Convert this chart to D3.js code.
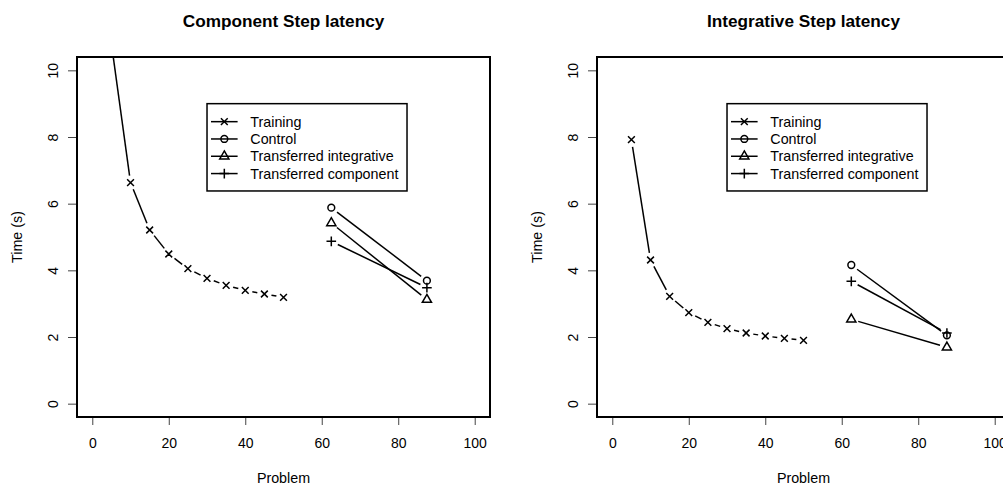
<!DOCTYPE html>
<html>
<head>
<meta charset="utf-8">
<script src="https://cdn.jsdelivr.net/npm/d3@7"></script>
<style>
  body { margin: 0; background: #fff; }
  svg { display: block; }
  text { font-family: "Liberation Sans", Arial, Helvetica, sans-serif; fill: #000; }
</style>
</head>
<body>
<svg id="chart" width="1003" height="486"></svg>
<script>
// Problems 5..50 of the training phase, and the two transfer blocks
const trainingProblems = [5, 10, 15, 20, 25, 30, 35, 40, 45, 50];
const transferProblems = [62.5, 87.5];

// Component step latency (s)
const componentTraining = [10.8, 6.63, 5.21, 4.49, 4.05, 3.76, 3.55, 3.40, 3.29, 3.19];
const componentControl = [5.88, 3.69];
const componentTransIntegrative = [5.42, 3.12];
const componentTransComponent = [4.87, 3.48];

// Integrative step latency (s)
const integrativeTraining = [7.92, 4.31, 3.22, 2.73, 2.44, 2.25, 2.12, 2.03, 1.96, 1.90];
const integrativeControl = [4.16, 2.05];
const integrativeTransIntegrative = [2.53, 1.69];
const integrativeTransComponent = [3.67, 2.12];

const seriesNames = ["Training", "Control", "Transferred integrative", "Transferred component"];
const seriesSymbols = ["cross", "circle", "triangle", "plus"];
const panelTitles = ["Component Step latency", "Integrative Step latency"];
const xTicks = [0, 20, 40, 60, 80, 100];
const yTicks = [0, 2, 4, 6, 8, 10];
const xLabel = "Problem";
const yLabel = "Time (s)";

const panels = [
  { title: panelTitles[0], training: componentTraining, control: componentControl,
    transInt: componentTransIntegrative, transComp: componentTransComponent, left: 77 },
  { title: panelTitles[1], training: integrativeTraining, control: integrativeControl,
    transInt: integrativeTransIntegrative, transComp: integrativeTransComponent, left: 597 }
];

const svg = d3.select("#chart");
const plotW = 413, plotTop = 57, plotBottom = 417;
const lineW = 1.5;
const R = 3.4;       // symbol radius
const GAP = 7.2;     // gap left around points on the connecting lines
const fontSize = 14.3;

function drawSymbol(g, type, cx, cy) {
  const s = g.append("g").attr("fill", "none").attr("stroke", "#000").attr("stroke-width", lineW);
  if (type === "circle") {
    s.append("circle").attr("cx", cx).attr("cy", cy).attr("r", R);
  } else if (type === "cross") {
    s.append("path").attr("d",
      `M${cx - R},${cy - R}L${cx + R},${cy + R}M${cx - R},${cy + R}L${cx + R},${cy - R}`);
  } else if (type === "plus") {
    const h = R * Math.SQRT2;
    s.append("path").attr("d", `M${cx - h},${cy}L${cx + h},${cy}M${cx},${cy - h}L${cx},${cy + h}`);
  } else if (type === "triangle") {
    const r0 = R * 1.5551, r1 = R * 1.3468, r2 = R * 0.7776;
    s.append("path").attr("d",
      `M${cx},${cy - r0}L${cx + r1},${cy + r2}L${cx - r1},${cy + r2}Z`).attr("stroke-linejoin", "miter");
  }
}

// points joined by lines that stop short of each symbol
function drawSeries(g, xs, ys, x, y, type) {
  const pts = xs.map((v, i) => [x(v), y(ys[i])]);
  for (let i = 0; i < pts.length - 1; i++) {
    const [x0, y0] = pts[i], [x1, y1] = pts[i + 1];
    const dx = x1 - x0, dy = y1 - y0, d = Math.hypot(dx, dy);
    if (d <= 2 * GAP) continue;
    const ux = dx / d, uy = dy / d;
    g.append("line")
      .attr("x1", x0 + ux * GAP).attr("y1", y0 + uy * GAP)
      .attr("x2", x1 - ux * GAP).attr("y2", y1 - uy * GAP)
      .attr("stroke", "#000").attr("stroke-width", lineW);
  }
  pts.forEach(p => drawSymbol(g, type, p[0], p[1]));
}

panels.forEach((p, k) => {
  const x = d3.scaleLinear().domain([-4, 104]).range([p.left, p.left + plotW]);
  const y = d3.scaleLinear().domain([-0.4, 10.4]).range([plotBottom, plotTop]);
  const g = svg.append("g");

  // title
  g.append("text").attr("x", p.left + plotW / 2).attr("y", 27)
    .attr("text-anchor", "middle").attr("font-weight", "bold").attr("font-size", 17.2)
    .text(p.title);

  // x axis
  const xAxis = g.append("g").attr("transform", `translate(0,${plotBottom})`)
    .call(d3.axisBottom(x).tickValues(xTicks).tickSize(8).tickPadding(13).tickFormat(d3.format("d")));
  xAxis.select(".domain").remove();
  xAxis.selectAll(".tick line").attr("stroke", "#444").attr("stroke-width", 1);
  xAxis.selectAll(".tick text").attr("font-size", 14).attr("font-family", "Liberation Sans, Arial, sans-serif");

  // y axis (labels parallel to the axis)
  const yAxis = g.append("g").attr("transform", `translate(${p.left},0)`)
    .call(d3.axisLeft(y).tickValues(yTicks).tickSize(9).tickFormat(d3.format("d")));
  yAxis.select(".domain").remove();
  yAxis.selectAll(".tick line").attr("stroke", "#444").attr("stroke-width", 1);
  yAxis.selectAll(".tick text")
    .attr("font-size", 14).attr("font-family", "Liberation Sans, Arial, sans-serif")
    .attr("x", null)
    .attr("text-anchor", "middle")
    .attr("transform", "translate(-24.5,0) rotate(-90)")
    .attr("dy", "0.36em");

  // axis titles
  g.append("text").attr("x", p.left + plotW / 2).attr("y", 483)
    .attr("text-anchor", "middle").attr("font-size", fontSize).text(xLabel);
  g.append("text").attr("transform", `translate(${p.left - 55},${(plotTop + plotBottom) / 2}) rotate(-90)`)
    .attr("text-anchor", "middle").attr("font-size", fontSize).text(yLabel);

  // clipped plotting region
  const clipId = "clip" + k;
  svg.append("clipPath").attr("id", clipId)
    .append("rect").attr("x", p.left).attr("y", plotTop).attr("width", plotW).attr("height", plotBottom - plotTop);
  const data = g.append("g").attr("clip-path", `url(#${clipId})`);

  drawSeries(data, trainingProblems, p.training, x, y, seriesSymbols[0]);
  drawSeries(data, transferProblems, p.control, x, y, seriesSymbols[1]);
  drawSeries(data, transferProblems, p.transInt, x, y, seriesSymbols[2]);
  drawSeries(data, transferProblems, p.transComp, x, y, seriesSymbols[3]);

  // legend anchored at (30, 9) in data units
  const lx = x(30), ly = y(9);
  const leg = g.append("g");
  leg.append("rect").attr("x", lx).attr("y", ly).attr("width", 200).attr("height", 87.3)
    .attr("fill", "#fff").attr("stroke", "#000").attr("stroke-width", lineW);
  seriesNames.forEach((name, i) => {
    const ry = ly + 18 + i * 17.3;
    leg.append("line").attr("x1", lx + 4).attr("x2", lx + 30.6).attr("y1", ry).attr("y2", ry)
      .attr("stroke", "#000").attr("stroke-width", lineW);
    drawSymbol(leg, seriesSymbols[i], lx + 17.3, ry);
    leg.append("text").attr("x", lx + 43.3).attr("y", ry).attr("dy", "0.36em")
      .attr("font-size", fontSize).text(name);
  });

  // plot box
  g.append("rect").attr("x", p.left).attr("y", plotTop).attr("width", plotW).attr("height", plotBottom - plotTop)
    .attr("fill", "none").attr("stroke", "#000").attr("stroke-width", 2);
});
</script>
</body>
</html>
